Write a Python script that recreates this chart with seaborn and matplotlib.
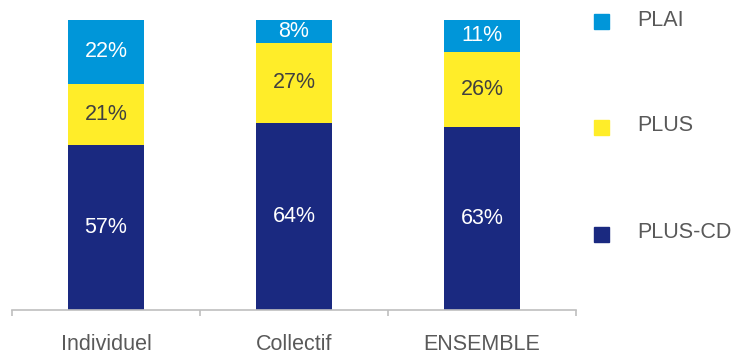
import numpy as np
import pandas as pd
import matplotlib
matplotlib.use("Agg")
import matplotlib.pyplot as plt
import seaborn as sns
from matplotlib.patches import Rectangle

# Data
categories = ["Individuel", "Collectif", "ENSEMBLE"]
series = ["PLUS-CD", "PLUS", "PLAI"]
plus_cd = [57, 64, 63]
plus = [21, 27, 26]
plai = [22, 8, 11]

colors = {"PLUS-CD": "#1a2980", "PLUS": "#ffed29", "PLAI": "#0096d9"}
text_colors = {"PLUS-CD": "white", "PLUS": "#404040", "PLAI": "white"}

sns.set_style("white")
plt.rcParams['font.family'] = ['Liberation Sans', 'DejaVu Sans']

values = {"PLUS-CD": plus_cd, "PLUS": plus, "PLAI": plai}
df = pd.DataFrame({"cat": categories, **values})
# 100% stacked: labels are rounded, so scale heights to a full bar
total = df[series].sum(axis=1)
for name in series:
    df["h_" + name] = df[name] / total * 100
df["c1"] = df["h_PLUS-CD"]
df["c2"] = df["c1"] + df["h_PLUS"]
df["c3"] = df["c2"] + df["h_PLAI"]

fig = plt.figure(figsize=(7.32, 3.54), dpi=100)
ax = fig.add_axes([12/732, 44/354, 564/732, 290/354])

# stacked by overlaying cumulative totals
for col, name in [("c3", "PLAI"), ("c2", "PLUS"), ("c1", "PLUS-CD")]:
    sns.barplot(data=df, x="cat", y=col, color=colors[name], width=0.40,
                saturation=1, ax=ax, linewidth=0)

# percentage labels
for i in range(len(categories)):
    bottom = 0
    for name in series:
        h = df.loc[i, "h_" + name]
        ax.text(i, bottom + h / 2, f"{values[name][i]}%", ha="center", va="center",
                fontsize=15.5, color=text_colors[name])
        bottom += h

ax.set_ylim(0, 100)
ax.set_xlim(-0.5, 2.5)
ax.set_ylabel("")
ax.set_xlabel("")
ax.set_yticks([])
for s in ["top", "right", "left"]:
    ax.spines[s].set_visible(False)
ax.spines["bottom"].set_color("#bfbfbf")
ax.spines["bottom"].set_linewidth(1.2)

ax.set_xticks([-0.5, 0.5, 1.5, 2.5])
ax.set_xticklabels([])
ax.tick_params(axis="x", which="major", direction="out", length=4,
               color="#bfbfbf", width=1.2, bottom=True)
ax.set_xticks([0, 1, 2], minor=True)
ax.set_xticklabels(categories, minor=True)
ax.tick_params(axis="x", which="minor", length=0, pad=17,
               labelsize=15.5, labelcolor="#595959")

# legend on the right, spread over the full height
legend_y = [21.5, 127, 234]
for name, y in zip(["PLAI", "PLUS", "PLUS-CD"], legend_y):
    fig.patches.append(Rectangle((594/732, 1 - (y + 7.5)/354), 15/732, 15/354,
                                 transform=fig.transFigure, color=colors[name]))
    fig.text(637/732, 1 - (y - 1.5)/354, name, ha="left", va="center",
             fontsize=15.5, color="#595959")

fig.savefig("out.png", dpi=100)
